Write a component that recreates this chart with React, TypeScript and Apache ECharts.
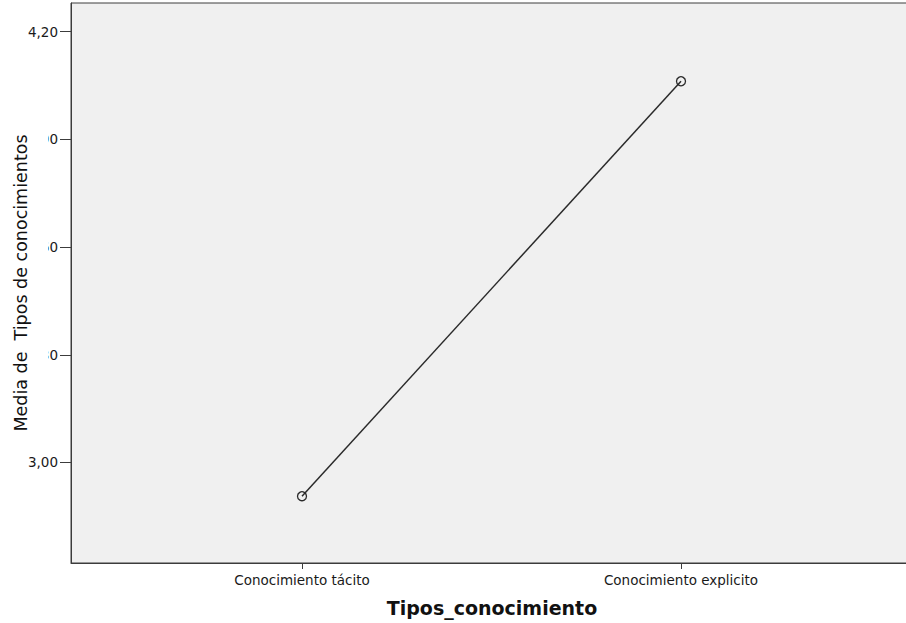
import React, { useEffect, useRef } from "react";
import * as echarts from "echarts";

const categories = ["Conocimiento tácito", "Conocimiento explicito"];
const meanValues = [2.906, 4.062];
const yTicks = [3.0, 3.3, 3.6, 3.9, 4.2];
const xTitle = "Tipos_conocimiento";
const yTitle = "Media de  Tipos de conocimientos";

export default function App() {
  const ref = useRef<HTMLDivElement>(null);
  useEffect(() => {
    if (!ref.current) return;
    const chart = echarts.init(ref.current, null, { renderer: "svg" });
    const data = meanValues.map((v, i) => [i, v]);
    chart.setOption({
      animation: false,
      backgroundColor: "#ffffff",
      textStyle: { fontFamily: "DejaVu Sans" },
      grid: {
        left: 71,
        top: 3,
        width: 841,
        bottom: 60,
        outerBoundsMode: "none",
        containLabel: false,
        show: true,
        backgroundColor: "#f0f0f0",
        borderColor: "#3c3c3c",
        borderWidth: 1,
      },
      xAxis: {
        type: "value",
        min: -0.6095,
        max: 1.6095,
        splitLine: { show: false },
        axisLine: { show: true, onZero: false, lineStyle: { color: "#3c3c3c", width: 1 } },
        axisTick: { show: true, customValues: [0, 1], length: 6, lineStyle: { color: "#3c3c3c" } },
        axisLabel: {
          customValues: [0, 1],
          formatter: (v: number) => categories[Math.round(v)] ?? "",
          color: "#1a1a1a",
          fontSize: 13.5,
          fontFamily: "DejaVu Sans",
          margin: 10,
        },
      },
      yAxis: {
        type: "value",
        min: 2.72,
        max: 4.28,
        splitLine: { show: false },
        axisLine: { show: true, onZero: false, lineStyle: { color: "#3c3c3c", width: 1 } },
        axisTick: { show: true, customValues: yTicks, length: 11, lineStyle: { color: "#3c3c3c" } },
        axisLabel: {
          customValues: yTicks,
          formatter: (v: number) => v.toFixed(2).replace(".", ","),
          color: "#1a1a1a",
          fontSize: 13.5,
          fontFamily: "DejaVu Sans",
          margin: 13,
        },
      },
      graphic: [
        {
          type: "rect",
          z: 100,
          shape: { x: 0, y: 126, width: 48, height: 316 },
          style: { fill: "#ffffff" },
        },
        {
          type: "text",
          z: 101,
          x: 21,
          y: 283,
          rotation: Math.PI / 2,
          style: {
            text: yTitle,
            fill: "#111",
            font: "17.5px 'DejaVu Sans'",
            textAlign: "center",
            textVerticalAlign: "middle",
          },
        },
        {
          type: "text",
          z: 101,
          x: 492,
          y: 608,
          style: {
            text: xTitle,
            fill: "#111",
            font: "bold 19px 'DejaVu Sans'",
            textAlign: "center",
            textVerticalAlign: "middle",
          },
        },
      ],
      series: [
        {
          type: "line",
          data,
          symbol: "circle",
          symbolSize: 9,
          lineStyle: { color: "#2a2a2a", width: 1.5 },
          itemStyle: { color: "rgba(0,0,0,0)", borderColor: "#2a2a2a", borderWidth: 1.3 },
        },
      ],
    });
    return () => chart.dispose();
  }, []);
  return <div ref={ref} style={{ width: 906, height: 623, position: "absolute", left: 0, top: 0 }} />;
}
